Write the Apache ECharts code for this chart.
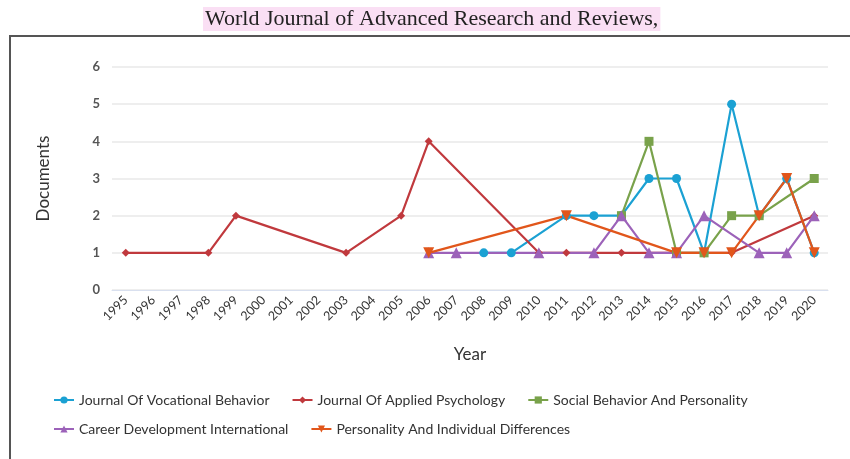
<!DOCTYPE html>
<html>
<head>
<meta charset="utf-8">
<script src="https://cdn.jsdelivr.net/npm/echarts@6/dist/echarts.min.js"></script>
<style>html,body{margin:0;padding:0;background:#fff;}#c{width:850px;height:459px;}</style>
</head>
<body>
<div id="c"></div>
<script>
const years = ['1995','1996','1997','1998','1999','2000','2001','2002','2003','2004','2005','2006','2007','2008','2009','2010','2011','2012','2013','2014','2015','2016','2017','2018','2019','2020'];
const vocational  = [null,null,null,null,null,null,null,null,null,null,null,null,null,1,1,null,2,2,2,3,3,1,5,2,3,1];
const applied     = [1,null,null,1,2,null,null,null,1,null,2,4,null,null,null,1,1,null,1,null,1,null,1,null,null,2];
const social      = [null,null,null,null,null,null,null,null,null,null,null,null,null,null,null,null,null,null,2,4,1,1,2,2,null,3];
const career      = [null,null,null,null,null,null,null,null,null,null,null,1,1,null,null,1,null,1,2,1,1,2,null,1,1,2];
const personality = [null,null,null,null,null,null,null,null,null,null,null,1,null,null,null,null,2,null,null,null,1,1,1,2,3,1];
const seriesNames = ['Journal Of Vocational Behavior','Journal Of Applied Psychology','Social Behavior And Personality','Career Development International','Personality And Individual Differences'];
const yTicks = [0,1,2,3,4,5,6];

const colors = ['#1ba1d3','#c0393d','#79a24b','#9c62b9','#e1561b'];
const symbols = ['circle','diamond','rect','triangle','path://M0,0 L10,0 L5,9 Z'];
const sizes = [9,8,9,11,11];
const dataSets = [vocational, applied, social, career, personality];

const chart = echarts.init(document.getElementById('c'));
const font = 'Lato';
chart.setOption({
  animation: false,
  title: {
    text: 'World Journal of Advanced Research and Reviews,',
    left: 203, top: 7,
    backgroundColor: '#fadff4',
    padding: [1, 2, 1, 2],
    textStyle: {fontFamily: 'Liberation Serif', fontSize: 22, fontWeight: 'normal', color: '#222'}
  },
  graphic: [{
    type: 'rect', silent: true,
    shape: {x: 10, y: 36, width: 860, height: 440},
    style: {fill: 'none', stroke: '#555', lineWidth: 2}
  }],
  legend: [
    {
      data: seriesNames.slice(0,3), left: 48, top: 388, itemWidth: 20, itemHeight: 9, itemGap: 22,
      textStyle: {fontFamily: font, fontSize: 14, color: '#333'}
    },
    {
      data: seriesNames.slice(3), left: 48, top: 417, itemWidth: 20, itemHeight: 9, itemGap: 22,
      textStyle: {fontFamily: font, fontSize: 14, color: '#333'}
    }
  ],
  grid: {left: 112, right: 22, top: 67, bottom: 169, containLabel: false},
  xAxis: {
    type: 'category', data: years, boundaryGap: true,
    name: 'Year', nameLocation: 'middle', nameGap: 56,
    nameTextStyle: {fontFamily: font, fontSize: 17, color: '#333'},
    axisLine: {show: true, lineStyle: {color: '#d9e0ef'}},
    axisTick: {show: false},
    axisLabel: {rotate: 45, fontFamily: font, fontSize: 12.5, color: '#333', margin: 8, interval: 0}
  },
  yAxis: {
    type: 'value', min: 0, max: 6, interval: 1,
    name: 'Documents', nameLocation: 'middle', nameGap: 60,
    nameTextStyle: {fontFamily: font, fontSize: 17, color: '#333'},
    axisLine: {show: false}, axisTick: {show: false},
    axisLabel: {fontFamily: font, fontSize: 13, fontWeight: 'bold', color: '#555', margin: 12,
      formatter: v => yTicks.includes(v) ? String(v) : ''},
    splitLine: {lineStyle: {color: '#e8e8e8', width: 1.5}}
  },
  series: seriesNames.map((n, i) => ({
    name: n, type: 'line', data: dataSets[i], connectNulls: true,
    symbol: symbols[i], symbolSize: sizes[i], showSymbol: true,
    lineStyle: {color: colors[i], width: 2.2},
    itemStyle: {color: colors[i]}
  }))
});
</script>
</body>
</html>
